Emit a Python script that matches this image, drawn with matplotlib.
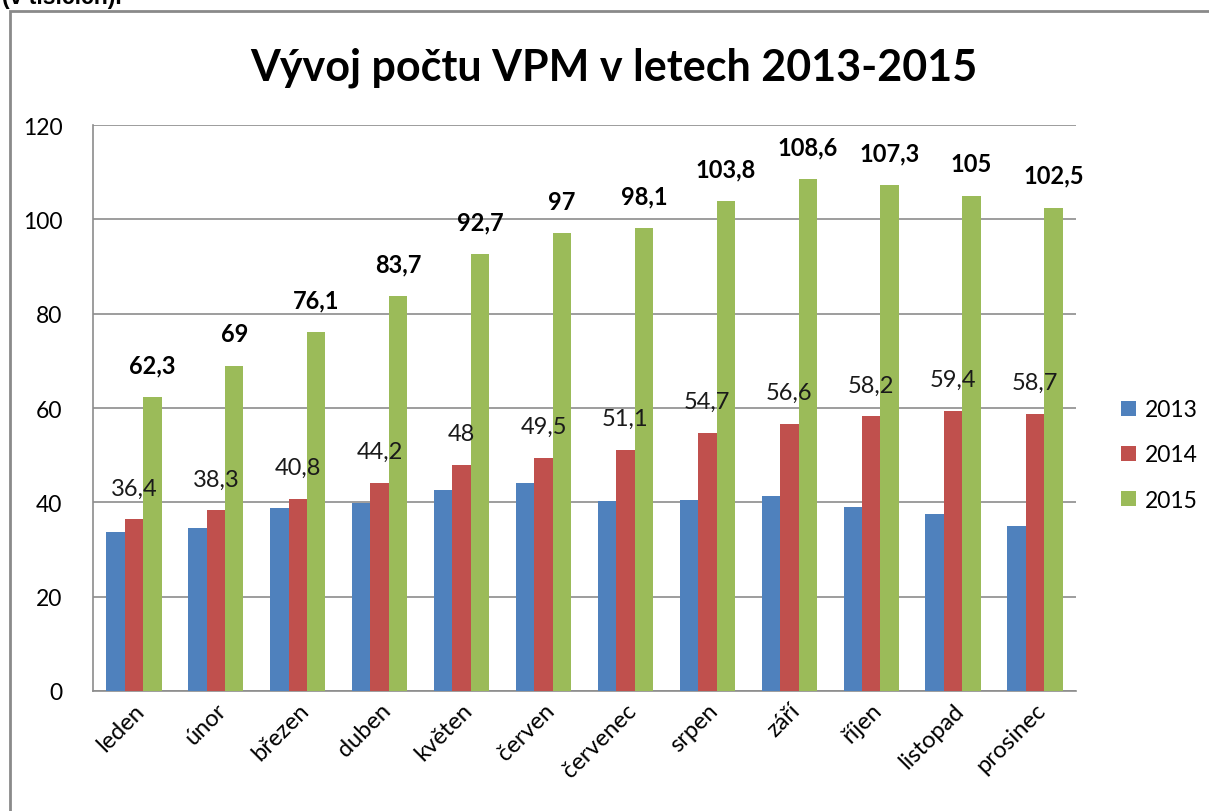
import numpy as np
import matplotlib.pyplot as plt
from matplotlib.patches import Rectangle

plt.rcParams['font.family'] = ['Lato', 'DejaVu Sans']

mesice = ['leden', 'únor', 'březen', 'duben', 'květen', 'červen',
          'červenec', 'srpen', 'září', 'říjen', 'listopad', 'prosinec']
v2013 = [33.8, 34.5, 38.9, 39.8, 42.6, 44.0, 40.2, 40.5, 41.4, 39.1, 37.6, 35.0]
v2014 = [36.4, 38.3, 40.8, 44.2, 48, 49.5, 51.1, 54.7, 56.6, 58.2, 59.4, 58.7]
v2015 = [62.3, 69, 76.1, 83.7, 92.7, 97, 98.1, 103.8, 108.6, 107.3, 105, 102.5]
roky = ['2013', '2014', '2015']
barvy = ['#4f81bd', '#c0504d', '#9bbb59']

fig = plt.figure(figsize=(12.09, 8.12), dpi=100)
ax = fig.add_axes([0.0769, 0.1478, 0.8131, 0.697])

x = np.arange(len(mesice))
w = 0.225
ax.bar(x - w, v2013, w, color=barvy[0], label=roky[0], zorder=3)
ax.bar(x, v2014, w, color=barvy[1], label=roky[1], zorder=3)
ax.bar(x + w, v2015, w, color=barvy[2], label=roky[2], zorder=3)

def cz(v):
    return ('%g' % v).replace('.', ',')

for xi, v in zip(x, v2014):
    ax.annotate(cz(v), (xi, v), xytext=(0, 15), textcoords='offset points',
                ha='center', va='bottom', fontsize=17, color='#1a1a1a')
for xi, v in zip(x + w, v2015):
    ax.annotate(cz(v), (xi, v), xytext=(0, 15), textcoords='offset points',
                ha='center', va='bottom', fontsize=17, fontweight='bold')

ax.set_xlim(-0.5, len(mesice) - 0.5)
ax.set_ylim(0, 120)
ax.set_yticks(np.arange(0, 121, 20))
ax.yaxis.grid(True, color='#8c8c8c', linewidth=1.2, zorder=0)
ax.set_axisbelow(True)
ax.tick_params(axis='both', length=0, labelsize=16.5)
ax.tick_params(axis='y', pad=22)
ax.tick_params(axis='x', pad=6, labelsize=17)
ax.set_xticks(x)
ax.set_xticklabels(mesice, rotation=45, ha='right', rotation_mode='anchor')
for s in ['top', 'right']:
    ax.spines[s].set_visible(False)
for s in ['left', 'bottom']:
    ax.spines[s].set_color('#8c8c8c')
    ax.spines[s].set_linewidth(1.2)

fig.text(0.508, 0.916, 'Vývoj počtu VPM v letech 2013-2015', fontsize=31,
         fontweight='bold', ha='center', va='center')

ax.legend(loc='center left', bbox_to_anchor=(1.025, 0.417), frameon=False,
          fontsize=16.5, handlelength=0.65, handleheight=0.65,
          labelspacing=1.05, handletextpad=0.4)

# ramecek grafu
fig.patches.append(Rectangle((0.0083, -0.1), 1.2, 1.0852, transform=fig.transFigure,
                             fill=False, edgecolor='#8a8a8a', linewidth=2))
fig.text(0.002, 1.003, '(v tisících).', fontsize=16.5, fontweight='bold',
         family=['Liberation Sans', 'DejaVu Sans'], va='center', ha='left')

fig.savefig('out.png', dpi=100)
